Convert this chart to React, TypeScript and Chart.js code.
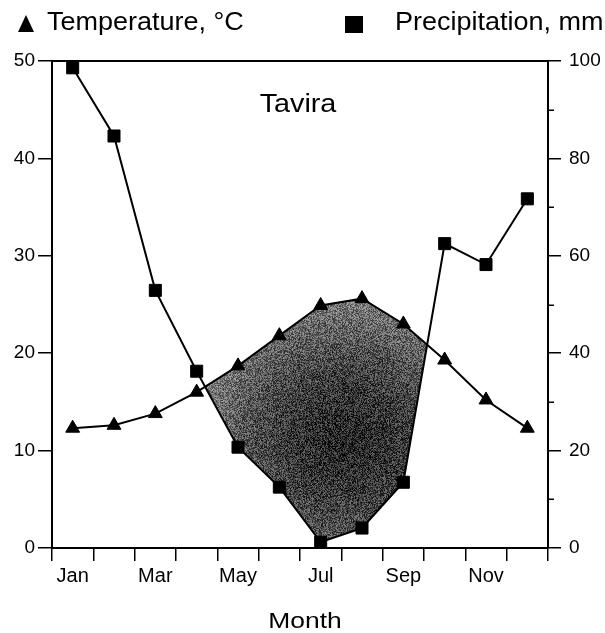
import React, { useEffect, useRef } from 'react';
import { Chart, registerables } from 'chart.js';

Chart.register(...registerables);

// ---- Data ----
const months = ['Jan', 'Feb', 'Mar', 'Apr', 'May', 'Jun', 'Jul', 'Aug', 'Sep', 'Oct', 'Nov', 'Dec'];
const monthTickLabels = ['Jan', '', 'Mar', '', 'May', '', 'Jul', '', 'Sep', '', 'Nov', ''];
const temperatureC = [12.3, 12.6, 13.8, 16.0, 18.7, 21.8, 24.9, 25.6, 23.0, 19.3, 15.2, 12.3];
const precipitationMm = [98.6, 84.6, 52.9, 36.3, 20.7, 12.5, 1.2, 4.1, 13.5, 62.5, 58.2, 71.7];
const tempAxis = { min: 0, max: 50, step: 10 };
const precipAxis = { min: 0, max: 100, step: 20 };
const precipMinorTicks = [10, 30, 50, 70, 90];
const legendTemperature = 'Temperature, °C';
const legendPrecipitation = 'Precipitation, mm';
const stationName = 'Tavira';
const xAxisTitle = 'Month';

const FONT = '"Liberation Sans", Arial, Helvetica, sans-serif';

function drawStretchedText(
  ctx: CanvasRenderingContext2D,
  text: string,
  x: number,
  y: number,
  size: number,
  align: 'left' | 'center' | 'right',
  sx: number
) {
  ctx.save();
  ctx.font = `${size}px ${FONT}`;
  ctx.textBaseline = 'alphabetic';
  ctx.textAlign = 'left';
  ctx.fillStyle = '#000';
  const w = ctx.measureText(text).width * sx;
  const left = align === 'center' ? x - w / 2 : align === 'right' ? x - w : x;
  ctx.translate(left, y);
  ctx.scale(sx, 1);
  ctx.fillText(text, 0, 0);
  ctx.restore();
}

// stippled grey texture for the dry-season shading (style only)
function makeStipple(w: number, h: number): HTMLCanvasElement {
  const c = document.createElement('canvas');
  c.width = w;
  c.height = h;
  const g = c.getContext('2d') as CanvasRenderingContext2D;
  const img = g.createImageData(w, h);
  const cx = 345, cy = 440, r = 175;
  for (let y = 0; y < h; y++) {
    for (let x = 0; x < w; x++) {
      const d = Math.min(1, Math.hypot((x - cx) * 0.95, y - cy) / r);
      const base = 40 + 120 * Math.pow(d, 1.6);
      const s = Math.sin(x * 12.9898 + y * 78.233) * 43758.5453;
      const n = s - Math.floor(s);
      let v = base + (n - 0.5) * 110;
      v = Math.max(0, Math.min(255, v));
      const i = (y * w + x) * 4;
      img.data[i] = v;
      img.data[i + 1] = v;
      img.data[i + 2] = v;
      img.data[i + 3] = 255;
    }
  }
  g.putImageData(img, 0, 0);
  return c;
}

const decorPlugin = {
  id: 'decor',
  afterDraw(chart: any) {
    const { ctx, chartArea } = chart;
    const y2 = chart.scales.y2;
    ctx.save();
    ctx.strokeStyle = '#000';
    ctx.lineWidth = 2;
    ctx.beginPath();
    ctx.moveTo(chartArea.left - 1, chartArea.top);
    ctx.lineTo(chartArea.right + 1, chartArea.top);
    ctx.stroke();
    ctx.lineWidth = 1.5;
    for (const v of precipMinorTicks) {
      const py = Math.round(y2.getPixelForValue(v)) + 0.25;
      ctx.beginPath();
      ctx.moveTo(chartArea.right, py);
      ctx.lineTo(chartArea.right + 6, py);
      ctx.stroke();
    }
    ctx.fillStyle = '#000';
    ctx.beginPath();
    ctx.moveTo(18, 32);
    ctx.lineTo(34, 32);
    ctx.lineTo(26, 15);
    ctx.closePath();
    ctx.fill();
    ctx.fillRect(345, 16, 18, 17);
    ctx.restore();
    drawStretchedText(ctx, legendTemperature, 47, 30, 25, 'left', 1.08);
    drawStretchedText(ctx, legendPrecipitation, 395, 30, 25, 'left', 1.08);
    drawStretchedText(ctx, stationName, 298, 112, 25, 'center', 1.15);
    drawStretchedText(ctx, xAxisTitle, 305, 628, 22, 'center', 1.2);
  },
};

export default function App() {
  const canvasRef = useRef<HTMLCanvasElement | null>(null);

  useEffect(() => {
    const canvas = canvasRef.current;
    if (!canvas) return;
    const ctx2d = canvas.getContext('2d') as CanvasRenderingContext2D;
    const stipple = ctx2d.createPattern(makeStipple(605, 633), 'no-repeat') as CanvasPattern;

    const tickFontY = { family: FONT, size: 19 };
    const chart = new Chart(canvas, {
      type: 'line',
      data: {
        labels: months,
        datasets: [
          {
            label: legendTemperature,
            data: temperatureC,
            yAxisID: 'y',
            borderColor: '#000',
            borderWidth: 2,
            pointStyle: 'triangle',
            pointRadius: 8,
            pointBackgroundColor: '#000',
            pointBorderColor: '#000',
            pointBorderWidth: 1,
            tension: 0,
            fill: { target: 1, above: stipple, below: 'rgba(0,0,0,0)' },
            clip: false,
          } as any,
          {
            label: legendPrecipitation,
            data: precipitationMm,
            yAxisID: 'y2',
            borderColor: '#000',
            borderWidth: 2,
            pointStyle: 'rect',
            pointRadius: 8.5,
            pointBackgroundColor: '#000',
            pointBorderColor: '#000',
            pointBorderWidth: 1,
            tension: 0,
            fill: false,
            clip: false,
          } as any,
        ],
      },
      options: {
        responsive: false,
        maintainAspectRatio: false,
        animation: false,
        events: [],
        layout: { padding: { top: 61, left: 0, right: 0, bottom: 0 } },
        plugins: {
          legend: { display: false },
          tooltip: { enabled: false },
          title: { display: false },
          filler: { drawTime: 'beforeDatasetsDraw' },
        } as any,
        scales: {
          x: {
            type: 'category',
            offset: true,
            grid: { offset: true, drawOnChartArea: false, drawTicks: true, tickLength: 13, color: '#000', lineWidth: 1.5 },
            border: { display: true, color: '#000', width: 2 },
            ticks: {
              autoSkip: false,
              maxRotation: 0,
              minRotation: 0,
              padding: 3,
              color: '#000',
              font: { family: FONT, size: 20 },
              callback: (_v: any, i: number) => monthTickLabels[i],
            },
            afterFit: (s: any) => {
              s.height = 85;
            },
          },
          y: {
            position: 'left',
            min: tempAxis.min,
            max: tempAxis.max,
            ticks: { stepSize: tempAxis.step, padding: 3, color: '#000', font: tickFontY },
            grid: { drawOnChartArea: false, tickLength: 14, color: '#000', lineWidth: 1.5 },
            border: { display: true, color: '#000', width: 2 },
            afterFit: (s: any) => {
              s.width = 52;
            },
          },
          y2: {
            position: 'right',
            min: precipAxis.min,
            max: precipAxis.max,
            ticks: { stepSize: precipAxis.step, padding: 8, color: '#000', font: tickFontY },
            grid: { drawOnChartArea: false, tickLength: 13, color: '#000', lineWidth: 1.5 },
            border: { display: true, color: '#000', width: 2 },
            afterFit: (s: any) => {
              s.width = 57;
            },
          },
        } as any,
      },
      plugins: [decorPlugin],
    });
    return () => chart.destroy();
  }, []);

  return (
    <div style={{ position: 'absolute', left: 0, top: 0, width: 605, height: 633, background: '#fff' }}>
      <canvas ref={canvasRef} width={605} height={633} />
    </div>
  );
}
